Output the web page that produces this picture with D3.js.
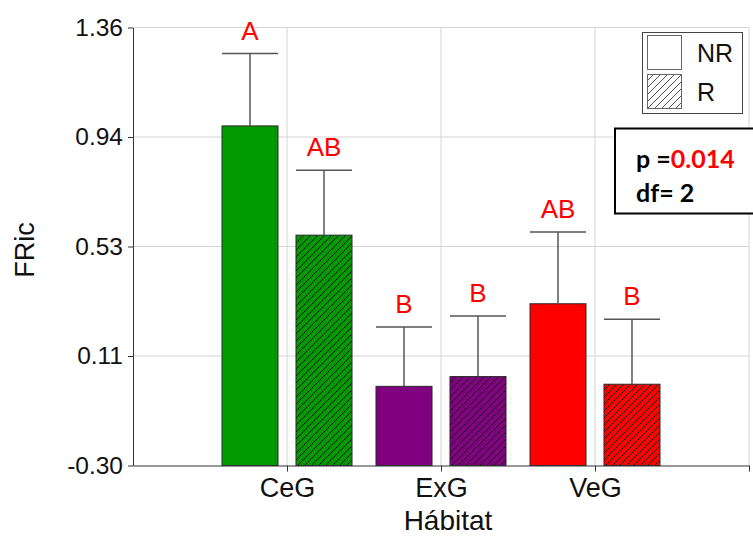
<!DOCTYPE html>
<html>
<head>
<meta charset="utf-8">
<script src="https://cdn.jsdelivr.net/npm/d3@7"></script>
<style>
  html, body { margin: 0; padding: 0; background: #fff; }
  svg { display: block; }
</style>
</head>
<body>
<svg id="chart" width="753" height="537"></svg>
<script>
// Functional richness (FRic) by habitat, non-restored (NR) vs restored (R)
const categories = ["CeG", "ExG", "VeG"];
const groups = ["NR", "R"];
const meanNR = [0.987, 0.000, 0.313];
const meanR = [0.573, 0.037, 0.008];
const errNR = [0.274, 0.225, 0.272];
const errR = [0.246, 0.230, 0.246];
const lettersNR = ["A", "B", "AB"];
const lettersR = ["AB", "B", "B"];
const habitatColors = ["#009900", "#800080", "#ff0000"];
const yTickValues = [-0.30, 0.115, 0.53, 0.945, 1.36];
const yTickLabels = ["-0.30", "0.11", "0.53", "0.94", "1.36"];
const pValue = "0.014";
const dfValue = "2";

(function draw() {
  const svg = d3.select("#chart");
  const plotLeft = 133, plotRight = 749, plotTop = 27.5, plotBottom = 465.5;

  // category positions sit at 1..3 on a 0..4 axis, so gridlines fall on each centre
  const x = d3.scaleLinear().domain([0, categories.length + 1]).range([plotLeft, plotRight]);
  const sub = d3.scaleBand().domain(groups).range([-65, 65]).paddingInner(0.243).paddingOuter(0);
  const y = d3.scaleLinear().domain([-0.30, 1.36]).range([plotBottom, plotTop]);

  const defs = svg.append("defs");
  function hatch(id, bg, lineColor) {
    const p = defs.append("pattern")
      .attr("id", id).attr("patternUnits", "userSpaceOnUse")
      .attr("width", 7).attr("height", 7);
    p.append("rect").attr("width", 7).attr("height", 7).attr("fill", bg);
    p.append("path")
      .attr("d", "M-1,1 l2,-2 M0,7 l7,-7 M6,8 l2,-2")
      .attr("stroke", lineColor).attr("stroke-width", 1);
  }
  habitatColors.forEach((c, i) => hatch("hatch" + i, c, "#111"));
  hatch("hatchLegend", "#fff", "#555");

  // gridlines
  const grid = svg.append("g");
  grid.selectAll("line.h").data(yTickValues.slice(1)).join("line")
    .attr("class", "h")
    .attr("x1", plotLeft).attr("x2", plotRight)
    .attr("y1", d => y(d)).attr("y2", d => y(d))
    .attr("stroke", "#d4d4d4").attr("stroke-width", 1);
  grid.selectAll("line.v").data(d3.range(1, categories.length + 2)).join("line")
    .attr("class", "v")
    .attr("x1", d => x(d)).attr("x2", d => x(d))
    .attr("y1", plotTop).attr("y2", plotBottom)
    .attr("stroke", "#d4d4d4").attr("stroke-width", 1);

  // bars
  const rows = [];
  categories.forEach((c, i) => {
    rows.push({ cat: i, g: "NR", v: meanNR[i], e: errNR[i], l: lettersNR[i] });
    rows.push({ cat: i, g: "R", v: meanR[i], e: errR[i], l: lettersR[i] });
  });
  const bx = d => x(d.cat + 1) + sub(d.g);
  const bw = sub.bandwidth();

  svg.append("g").selectAll("rect").data(rows).join("rect")
    .attr("x", bx)
    .attr("y", d => y(d.v))
    .attr("width", bw)
    .attr("height", d => y(-0.30) - y(d.v))
    .attr("fill", d => d.g === "NR" ? habitatColors[d.cat] : "url(#hatch" + d.cat + ")")
    .attr("stroke", "#2a2a2a").attr("stroke-width", 1);

  // upper error bars
  const errG = svg.append("g").attr("stroke", "#555").attr("stroke-width", 1.5);
  errG.selectAll("line.stem").data(rows).join("line")
    .attr("class", "stem")
    .attr("x1", d => bx(d) + bw / 2).attr("x2", d => bx(d) + bw / 2)
    .attr("y1", d => y(d.v)).attr("y2", d => y(d.v + d.e));
  errG.selectAll("line.cap").data(rows).join("line")
    .attr("class", "cap")
    .attr("x1", d => bx(d)).attr("x2", d => bx(d) + bw)
    .attr("y1", d => y(d.v + d.e)).attr("y2", d => y(d.v + d.e));

  // significance letters
  svg.append("g").selectAll("text").data(rows).join("text")
    .attr("x", d => bx(d) + bw / 2)
    .attr("y", d => y(d.v + d.e) - 14)
    .attr("text-anchor", "middle")
    .attr("font-family", "Liberation Sans, Arial, sans-serif")
    .attr("font-size", 26)
    .attr("fill", "#ff0000")
    .text(d => d.l);

  // y axis
  const yAxis = d3.axisLeft(y).tickValues(yTickValues)
    .tickFormat((d, i) => yTickLabels[i]).tickSize(5).tickSizeOuter(0).tickPadding(5);
  const yg = svg.append("g").attr("transform", `translate(${plotLeft},0)`).call(yAxis);
  yg.select(".domain").attr("stroke", "#333");
  yg.selectAll(".tick line").attr("stroke", "#333");
  yg.selectAll(".tick text")
    .attr("font-family", "Liberation Sans, Arial, sans-serif")
    .attr("font-size", 24.5).attr("fill", "#111");

  // x axis
  const xAxis = d3.axisBottom(x).tickValues(d3.range(1, categories.length + 2))
    .tickFormat(d => categories[d - 1] || "").tickSize(6).tickSizeOuter(0).tickPadding(6);
  const xg = svg.append("g").attr("transform", `translate(0,${plotBottom})`).call(xAxis);
  xg.select(".domain").attr("stroke", "#333");
  xg.selectAll(".tick line").attr("stroke", "#333");
  xg.selectAll(".tick text")
    .attr("font-family", "Liberation Sans, Arial, sans-serif")
    .attr("font-size", 27).attr("fill", "#111");

  // axis titles
  svg.append("text")
    .attr("transform", "translate(34,250) rotate(-90)")
    .attr("text-anchor", "middle")
    .attr("font-family", "Liberation Sans, Arial, sans-serif")
    .attr("font-size", 27).attr("fill", "#111")
    .text("FRic");
  svg.append("text")
    .attr("x", 448).attr("y", 530)
    .attr("text-anchor", "middle")
    .attr("font-family", "Liberation Sans, Arial, sans-serif")
    .attr("font-size", 28).attr("fill", "#111")
    .text("Hábitat");

  // legend
  const lg = svg.append("g");
  lg.append("rect").attr("x", 642.5).attr("y", 32.5).attr("width", 100).attr("height", 81)
    .attr("fill", "#fff").attr("stroke", "#444").attr("stroke-width", 1);
  lg.selectAll("rect.sw").data(groups).join("rect")
    .attr("class", "sw")
    .attr("x", 647.5).attr("y", (d, i) => 35.5 + i * 39)
    .attr("width", 34).attr("height", 34)
    .attr("fill", d => d === "NR" ? "#fff" : "url(#hatchLegend)")
    .attr("stroke", "#666").attr("stroke-width", 1);
  lg.selectAll("text").data(groups).join("text")
    .attr("x", 697).attr("y", (d, i) => 62 + i * 39)
    .attr("font-family", "Liberation Sans, Arial, sans-serif")
    .attr("font-size", 25).attr("fill", "#111")
    .text(d => d);

  // test statistics box
  const sb = svg.append("g");
  sb.append("rect").attr("x", 615).attr("y", 128.5).attr("width", 150).attr("height", 85)
    .attr("fill", "#fff").attr("stroke", "#000").attr("stroke-width", 2);
  const t1 = sb.append("text").attr("x", 636).attr("y", 167.5)
    .attr("font-family", "Lato, Open Sans, sans-serif").attr("font-weight", "bold")
    .attr("font-size", 25).attr("fill", "#000");
  t1.append("tspan").text("p =");
  t1.append("tspan").attr("fill", "#ff0000").text(pValue);
  sb.append("text").attr("x", 636).attr("y", 201.5)
    .attr("font-family", "Lato, Open Sans, sans-serif").attr("font-weight", "bold")
    .attr("font-size", 25).attr("fill", "#000")
    .text("df= " + dfValue);
})();
</script>
</body>
</html>
